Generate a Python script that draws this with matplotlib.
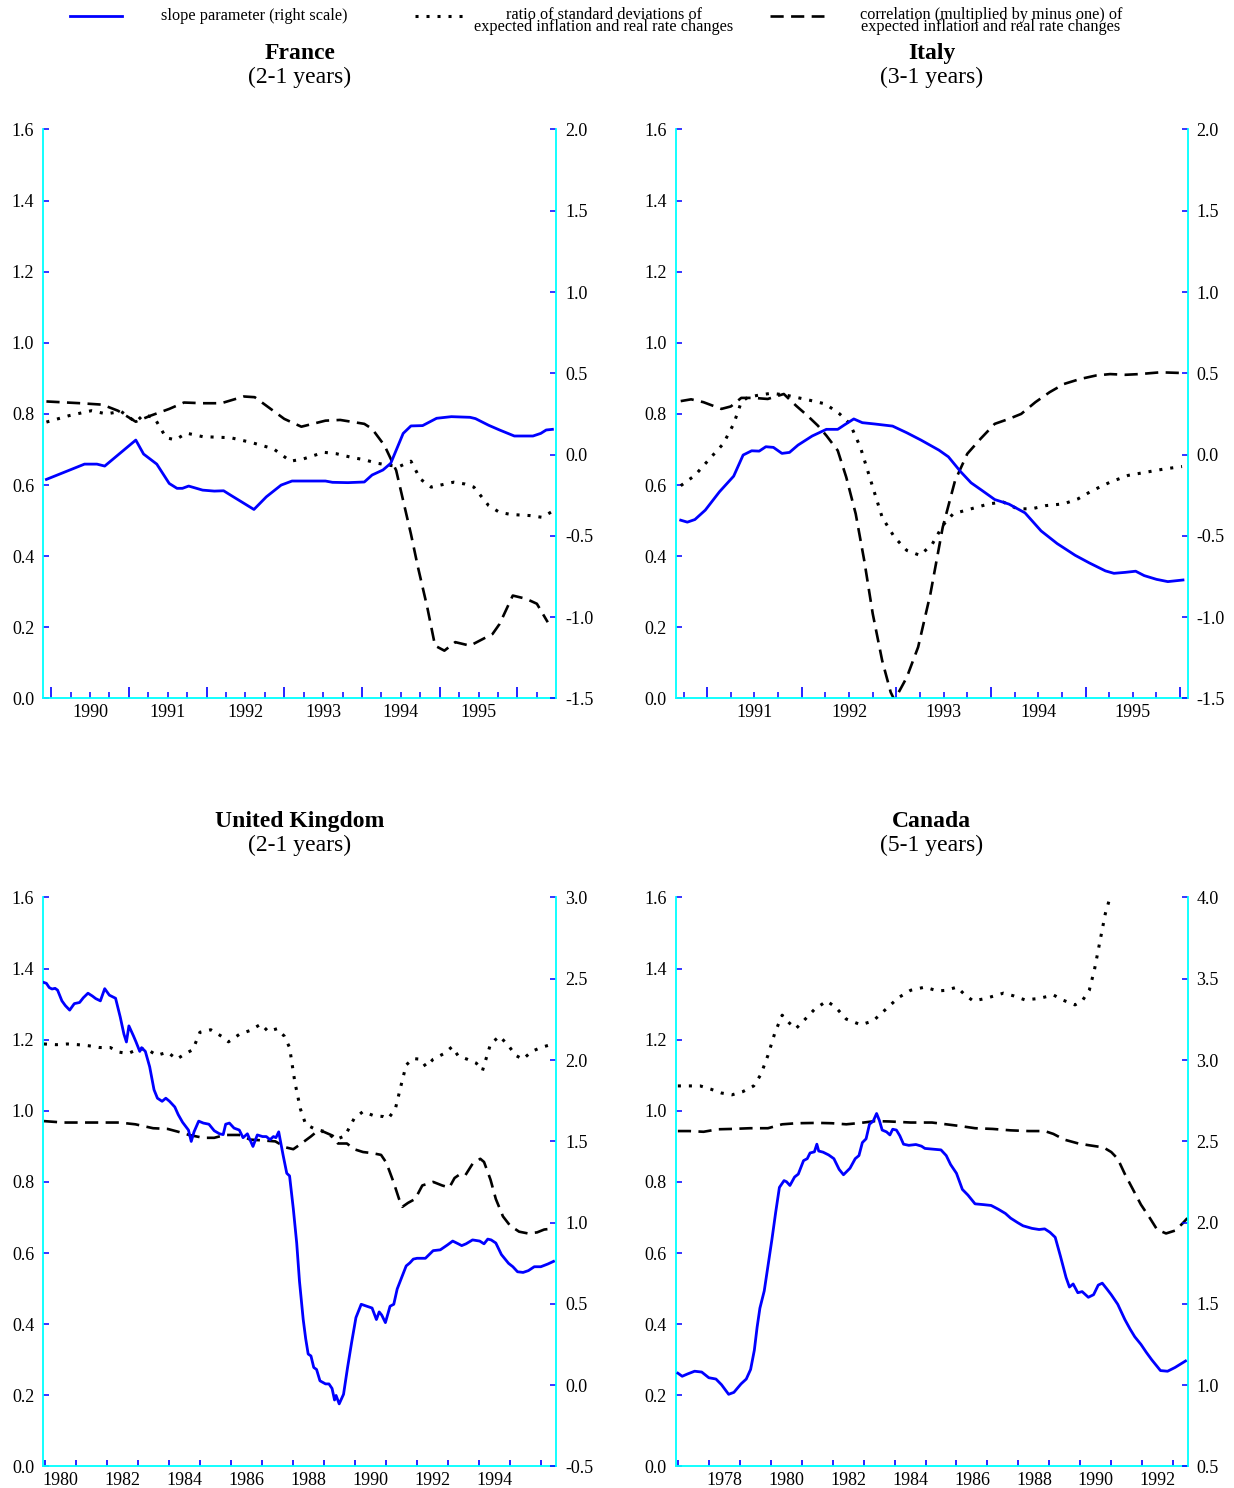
import numpy as np
import matplotlib
matplotlib.use("Agg")
import matplotlib.pyplot as plt
from matplotlib.lines import Line2D
from matplotlib.ticker import FixedLocator, FormatStrFormatter, NullFormatter

plt.rcParams["font.family"] = ["Liberation Serif", "DejaVu Serif"]
plt.rcParams["axes.unicode_minus"] = False

# ---------------- data ----------------
# France (2-1 years)
fr_slope_year = [1989.94, 1990.43, 1990.59, 1990.69, 1991.09, 1991.19, 1991.36, 1991.52, 1991.62,
                 1991.69, 1991.77, 1991.95, 1992.10, 1992.22, 1992.31, 1992.45, 1992.61, 1992.77,
                 1992.96, 1993.10, 1993.34, 1993.53, 1993.62, 1993.82, 1994.03, 1994.13, 1994.27,
                 1994.37, 1994.53, 1994.63, 1994.78, 1994.96, 1995.15, 1995.39, 1995.46, 1995.63,
                 1995.77, 1995.96, 1996.20, 1996.30, 1996.37, 1996.45]
fr_slope = [-0.153, -0.059, -0.059, -0.071, 0.089, 0.003, -0.059, -0.178, -0.208, -0.208, -0.194,
            -0.219, -0.225, -0.223, -0.250, -0.291, -0.338, -0.260, -0.188, -0.163, -0.163, -0.163,
            -0.171, -0.173, -0.169, -0.126, -0.095, -0.054, 0.130, 0.176, 0.178, 0.223, 0.233,
            0.229, 0.221, 0.180, 0.151, 0.114, 0.114, 0.130, 0.151, 0.155]
fr_ratio_year = [1989.94, 1990.23, 1990.52, 1990.71, 1990.90, 1991.09, 1991.19, 1991.33, 1991.48,
                 1991.60, 1991.74, 1991.95, 1992.31, 1992.57, 1992.86, 1993.08, 1993.24, 1993.51,
                 1993.67, 1993.86, 1994.03, 1994.20, 1994.37, 1994.48, 1994.63, 1994.75, 1994.89,
                 1995.18, 1995.32, 1995.44, 1995.63, 1995.77, 1995.92, 1996.16, 1996.32, 1996.45]
fr_ratio = [0.777, 0.795, 0.809, 0.800, 0.807, 0.777, 0.798, 0.789, 0.733, 0.727, 0.746, 0.736,
            0.733, 0.720, 0.702, 0.667, 0.673, 0.692, 0.688, 0.678, 0.671, 0.661, 0.655, 0.652,
            0.667, 0.617, 0.594, 0.608, 0.603, 0.594, 0.542, 0.523, 0.517, 0.514, 0.509, 0.526]
fr_corr_year = [1989.94, 1990.38, 1990.66, 1990.86, 1991.09, 1991.28, 1991.52, 1991.71, 1991.95,
                1992.19, 1992.48, 1992.62, 1992.77, 1993.00, 1993.22, 1993.53, 1993.72, 1994.03,
                1994.13, 1994.29, 1994.44, 1994.53, 1994.63, 1994.72, 1994.84, 1994.94, 1995.06,
                1995.20, 1995.39, 1995.68, 1995.77, 1995.94, 1996.11, 1996.25, 1996.39]
fr_corr = [0.835, 0.830, 0.826, 0.809, 0.778, 0.795, 0.814, 0.832, 0.830, 0.830, 0.849, 0.847,
           0.823, 0.786, 0.764, 0.781, 0.783, 0.772, 0.758, 0.711, 0.641, 0.556, 0.462, 0.369,
           0.256, 0.148, 0.134, 0.158, 0.148, 0.181, 0.209, 0.289, 0.280, 0.266, 0.214]

# Italy (3-1 years)
it_slope_year = [1990.72, 1990.79, 1990.87, 1990.98, 1991.13, 1991.28, 1991.38, 1991.47, 1991.55,
                 1991.62, 1991.70, 1991.79, 1991.87, 1991.96, 1992.11, 1992.26, 1992.38, 1992.45,
                 1992.55, 1992.64, 1992.77, 1992.96, 1993.11, 1993.26, 1993.45, 1993.55, 1993.68,
                 1993.79, 1993.91, 1994.04, 1994.19, 1994.36, 1994.53, 1994.70, 1994.89, 1995.04,
                 1995.21, 1995.30, 1995.42, 1995.53, 1995.62, 1995.75, 1995.87, 1996.03]
it_slope = [-0.404, -0.416, -0.400, -0.342, -0.229, -0.133, -0.003, 0.023, 0.021, 0.048, 0.044,
            0.007, 0.013, 0.058, 0.114, 0.155, 0.155, 0.182, 0.219, 0.196, 0.188, 0.175, 0.134,
            0.089, 0.027, -0.014, -0.106, -0.174, -0.223, -0.277, -0.305, -0.359, -0.470, -0.548,
            -0.620, -0.667, -0.716, -0.731, -0.725, -0.718, -0.745, -0.768, -0.782, -0.772]
it_ratio_year = [1990.72, 1990.87, 1991.04, 1991.17, 1991.28, 1991.36, 1991.43, 1991.57, 1991.68,
                 1991.83, 1992.09, 1992.25, 1992.40, 1992.51, 1992.62, 1992.74, 1992.85, 1992.98,
                 1993.11, 1993.25, 1993.38, 1993.49, 1993.60, 1993.79, 1993.98, 1994.13, 1994.28,
                 1994.43, 1994.58, 1994.77, 1994.92, 1995.07, 1995.26, 1995.45, 1995.64, 1995.83,
                 1996.02]
it_ratio = [0.598, 0.627, 0.678, 0.716, 0.772, 0.833, 0.847, 0.854, 0.858, 0.853, 0.838, 0.828,
            0.800, 0.772, 0.706, 0.603, 0.509, 0.453, 0.416, 0.402, 0.434, 0.486, 0.519, 0.533,
            0.547, 0.552, 0.533, 0.533, 0.542, 0.547, 0.561, 0.584, 0.608, 0.627, 0.636, 0.645,
            0.652]
it_corr_year = [1990.72, 1990.83, 1990.96, 1991.15, 1991.25, 1991.36, 1991.49, 1991.64, 1991.81,
                1991.94, 1992.06, 1992.17, 1992.26, 1992.38, 1992.47, 1992.57, 1992.66, 1992.75,
                1992.85, 1992.94, 1992.98, 1993.11, 1993.23, 1993.36, 1993.49, 1993.62, 1993.75,
                1993.89, 1994.04, 1994.19, 1994.32, 1994.47, 1994.62, 1994.77, 1994.94, 1995.11,
                1995.26, 1995.42, 1995.57, 1995.79, 1996.02]
it_corr = [0.836, 0.841, 0.833, 0.814, 0.821, 0.845, 0.845, 0.842, 0.856, 0.823, 0.795, 0.767,
           0.739, 0.697, 0.622, 0.519, 0.388, 0.238, 0.106, 0.017, -0.005, 0.059, 0.144, 0.294,
           0.481, 0.612, 0.688, 0.730, 0.772, 0.786, 0.800, 0.833, 0.861, 0.884, 0.898, 0.908,
           0.912, 0.910, 0.912, 0.917, 0.915]

# United Kingdom (2-1 years)
uk_slope_year = [1979.98, 1980.06, 1980.15, 1980.24, 1980.34, 1980.42, 1980.56, 1980.67, 1980.81,
                 1980.96, 1981.13, 1981.25, 1981.40, 1981.54, 1981.65, 1981.80, 1981.94, 1982.09,
                 1982.29, 1982.44, 1982.56, 1982.64, 1982.72, 1982.87, 1982.95, 1983.07, 1983.13,
                 1983.25, 1983.39, 1983.53, 1983.64, 1983.79, 1983.91, 1984.03, 1984.20, 1984.31,
                 1984.45, 1984.64, 1984.73, 1984.82, 1984.97, 1985.12, 1985.30, 1985.47, 1985.64,
                 1985.76, 1985.84, 1985.96, 1986.11, 1986.28, 1986.40, 1986.54, 1986.72, 1986.86,
                 1987.03, 1987.15, 1987.27, 1987.38, 1987.46, 1987.55, 1987.69, 1987.81, 1987.90,
                 1988.02, 1988.13, 1988.22, 1988.34, 1988.42, 1988.50, 1988.59, 1988.68, 1988.77,
                 1988.88, 1989.06, 1989.17, 1989.27, 1989.35, 1989.40, 1989.50, 1989.64, 1989.77,
                 1989.90, 1990.04, 1990.21, 1990.39, 1990.56, 1990.70, 1990.79, 1990.87, 1990.99,
                 1991.14, 1991.26, 1991.37, 1991.49, 1991.66, 1991.78, 1991.89, 1992.01, 1992.28,
                 1992.53, 1992.76, 1992.99, 1993.16, 1993.34, 1993.45, 1993.59, 1993.80, 1994.03,
                 1994.17, 1994.29, 1994.40, 1994.55, 1994.73, 1994.96, 1995.10, 1995.25, 1995.43,
                 1995.60, 1995.79, 1996.00, 1996.23, 1996.41]
uk_slope = [2.477, 2.472, 2.446, 2.437, 2.441, 2.430, 2.364, 2.335, 2.307, 2.347, 2.354, 2.383,
            2.411, 2.394, 2.378, 2.364, 2.439, 2.399, 2.380, 2.265, 2.159, 2.111, 2.210, 2.147,
            2.111, 2.053, 2.076, 2.053, 1.958, 1.817, 1.765, 1.746, 1.765, 1.746, 1.711, 1.664,
            1.617, 1.569, 1.499, 1.558, 1.624, 1.612, 1.605, 1.565, 1.546, 1.541, 1.605, 1.612,
            1.581, 1.569, 1.522, 1.546, 1.468, 1.539, 1.529, 1.529, 1.510, 1.529, 1.522, 1.558,
            1.416, 1.303, 1.287, 1.086, 0.874, 0.638, 0.403, 0.285, 0.191, 0.179, 0.108, 0.096,
            0.026, 0.007, 0.007, -0.021, -0.092, -0.064, -0.116, -0.057, 0.108, 0.261, 0.415,
            0.497, 0.485, 0.474, 0.403, 0.450, 0.431, 0.384, 0.485, 0.497, 0.591, 0.650, 0.733,
            0.752, 0.775, 0.780, 0.780, 0.827, 0.832, 0.862, 0.886, 0.869, 0.858, 0.869, 0.893,
            0.886, 0.869, 0.898, 0.893, 0.874, 0.803, 0.749, 0.728, 0.697, 0.693, 0.704, 0.728,
            0.728, 0.745, 0.761]
uk_ratio_year = [1979.98, 1980.38, 1980.73, 1981.08, 1981.42, 1981.77, 1982.12, 1982.41, 1982.69,
                 1982.98, 1983.27, 1983.62, 1983.97, 1984.26, 1984.49, 1984.78, 1985.01, 1985.36,
                 1985.70, 1985.93, 1986.28, 1986.63, 1986.98, 1987.21, 1987.50, 1987.73, 1987.90,
                 1988.07, 1988.25, 1988.42, 1988.71, 1989.06, 1989.40, 1989.69, 1989.98, 1990.27,
                 1990.62, 1990.91, 1991.08, 1991.31, 1991.49, 1991.66, 1991.89, 1992.12, 1992.30,
                 1992.53, 1992.88, 1993.14, 1993.34, 1993.63, 1993.92, 1994.12, 1994.38, 1994.67,
                 1994.96, 1995.19, 1995.42, 1995.71, 1996.00, 1996.40]
uk_ratio = [1.188, 1.186, 1.188, 1.186, 1.183, 1.178, 1.178, 1.165, 1.161, 1.172, 1.175, 1.156,
            1.165, 1.145, 1.158, 1.172, 1.221, 1.228, 1.210, 1.194, 1.215, 1.226, 1.244, 1.223,
            1.231, 1.210, 1.178, 1.081, 1.005, 0.962, 0.949, 0.941, 0.919, 0.930, 0.978, 0.998,
            0.986, 0.984, 0.978, 1.005, 1.070, 1.129, 1.147, 1.145, 1.124, 1.145, 1.161, 1.180,
            1.154, 1.145, 1.134, 1.113, 1.188, 1.210, 1.183, 1.156, 1.145, 1.167, 1.178, 1.188]
uk_corr_year = [1979.98, 1980.61, 1981.19, 1981.77, 1982.41, 1982.93, 1983.50, 1983.97, 1984.31,
                1984.66, 1985.12, 1985.47, 1985.82, 1986.28, 1986.63, 1986.98, 1987.44, 1987.78,
                1988.02, 1988.25, 1988.59, 1988.77, 1989.00, 1989.29, 1989.46, 1989.75, 1989.98,
                1990.27, 1990.56, 1990.85, 1991.02, 1991.25, 1991.43, 1991.54, 1991.72, 1991.95,
                1992.18, 1992.53, 1992.82, 1993.05, 1993.22, 1993.40, 1993.57, 1993.80, 1994.05,
                1994.17, 1994.38, 1994.55, 1994.78, 1995.01, 1995.30, 1995.59, 1995.88, 1996.11,
                1996.40]
uk_corr = [0.971, 0.967, 0.967, 0.967, 0.967, 0.962, 0.951, 0.949, 0.941, 0.932, 0.924, 0.924,
           0.932, 0.932, 0.919, 0.917, 0.914, 0.897, 0.892, 0.906, 0.928, 0.941, 0.941, 0.930,
           0.908, 0.908, 0.892, 0.884, 0.881, 0.876, 0.854, 0.800, 0.752, 0.730, 0.741, 0.752,
           0.790, 0.800, 0.790, 0.784, 0.811, 0.822, 0.819, 0.851, 0.865, 0.856, 0.806, 0.752,
           0.703, 0.677, 0.660, 0.655, 0.658, 0.666, 0.669]

# Canada (5-1 years)
ca_slope_year = [1977.00, 1977.14, 1977.31, 1977.54, 1977.77, 1978.00, 1978.23, 1978.41, 1978.64,
                 1978.81, 1979.04, 1979.21, 1979.35, 1979.47, 1979.56, 1979.65, 1979.79, 1979.91,
                 1980.04, 1980.16, 1980.28, 1980.43, 1980.51, 1980.62, 1980.77, 1980.89, 1981.06,
                 1981.18, 1981.27, 1981.41, 1981.49, 1981.55, 1981.69, 1981.87, 1982.04, 1982.21,
                 1982.35, 1982.56, 1982.73, 1982.85, 1982.96, 1983.08, 1983.19, 1983.31, 1983.42,
                 1983.51, 1983.60, 1983.74, 1983.85, 1983.94, 1984.06, 1984.17, 1984.29, 1984.46,
                 1984.69, 1984.87, 1984.98, 1985.21, 1985.50, 1985.67, 1985.81, 1986.00, 1986.19,
                 1986.37, 1986.60, 1986.88, 1987.12, 1987.35, 1987.58, 1987.75, 1987.98, 1988.15,
                 1988.44, 1988.67, 1988.85, 1989.02, 1989.19, 1989.36, 1989.54, 1989.65, 1989.77,
                 1989.92, 1990.06, 1990.26, 1990.43, 1990.58, 1990.71, 1990.86, 1991.00, 1991.21,
                 1991.44, 1991.61, 1991.76, 1991.96, 1992.13, 1992.31, 1992.48, 1992.59, 1992.82,
                 1993.06, 1993.40]
ca_slope = [1.073, 1.054, 1.068, 1.085, 1.080, 1.045, 1.037, 1.002, 0.943, 0.955, 1.007, 1.037,
            1.096, 1.214, 1.356, 1.473, 1.579, 1.732, 1.898, 2.063, 2.216, 2.258, 2.251, 2.228,
            2.280, 2.298, 2.381, 2.393, 2.428, 2.435, 2.482, 2.440, 2.433, 2.416, 2.393, 2.327,
            2.294, 2.334, 2.393, 2.412, 2.492, 2.515, 2.605, 2.624, 2.671, 2.628, 2.569, 2.558,
            2.539, 2.574, 2.569, 2.534, 2.482, 2.475, 2.480, 2.470, 2.456, 2.452, 2.447, 2.412,
            2.357, 2.303, 2.204, 2.169, 2.115, 2.110, 2.105, 2.082, 2.056, 2.027, 1.999, 1.980,
            1.964, 1.957, 1.961, 1.940, 1.909, 1.792, 1.662, 1.603, 1.622, 1.568, 1.575, 1.540,
            1.556, 1.615, 1.627, 1.591, 1.556, 1.497, 1.403, 1.344, 1.297, 1.250, 1.202, 1.155,
            1.115, 1.089, 1.085, 1.108, 1.148]
ca_ratio_year = [1977.00, 1977.37, 1977.72, 1978.06, 1978.41, 1978.75, 1979.10, 1979.45, 1979.68,
                 1979.91, 1980.14, 1980.37, 1980.60, 1980.81, 1981.06, 1981.41, 1981.81, 1982.10,
                 1982.44, 1982.91, 1983.31, 1983.71, 1984.12, 1984.52, 1984.98, 1985.39, 1985.67,
                 1986.02, 1986.25, 1986.54, 1986.94, 1987.52, 1987.86, 1988.21, 1988.67, 1989.13,
                 1989.42, 1989.83, 1990.06, 1990.29, 1990.46, 1990.64, 1990.81, 1990.96, 1991.10]
ca_ratio = [1.070, 1.070, 1.070, 1.061, 1.050, 1.045, 1.054, 1.070, 1.102, 1.156, 1.221, 1.269,
            1.247, 1.231, 1.253, 1.285, 1.309, 1.291, 1.258, 1.242, 1.253, 1.285, 1.318, 1.339,
            1.348, 1.337, 1.339, 1.348, 1.328, 1.309, 1.316, 1.331, 1.323, 1.312, 1.316, 1.326,
            1.312, 1.298, 1.309, 1.339, 1.398, 1.479, 1.555, 1.600, 1.690]
ca_corr_year = [1977.00, 1977.37, 1977.83, 1978.29, 1978.75, 1979.33, 1979.91, 1980.37, 1980.83,
                1981.52, 1981.98, 1982.44, 1982.91, 1983.37, 1983.83, 1984.52, 1985.21, 1985.67,
                1986.13, 1986.60, 1987.17, 1987.75, 1988.33, 1988.85, 1989.13, 1989.48, 1989.94,
                1990.29, 1990.75, 1991.00, 1991.21, 1991.44, 1991.67, 1991.96, 1992.25, 1992.48,
                1992.77, 1993.06, 1993.29, 1993.46]
ca_corr = [0.943, 0.943, 0.941, 0.948, 0.949, 0.951, 0.951, 0.962, 0.965, 0.966, 0.965, 0.962,
           0.966, 0.971, 0.970, 0.967, 0.967, 0.962, 0.957, 0.951, 0.949, 0.945, 0.943, 0.943,
           0.935, 0.919, 0.908, 0.903, 0.897, 0.884, 0.865, 0.822, 0.784, 0.736, 0.698, 0.666,
           0.655, 0.663, 0.682, 0.698]

panel_titles = ["France", "Italy", "United Kingdom", "Canada"]
panel_subtitles = ["(2-1 years)", "(3-1 years)", "(2-1 years)", "(5-1 years)"]
legend_labels = ["slope parameter (right scale)",
                 "ratio of standard deviations of\nexpected inflation and real rate changes",
                 "correlation (multiplied by minus one) of\nexpected inflation and real rate changes"]

# ---------------- styling ----------------
W, H = 1234, 1488
BLUE = "#0000ff"
CYAN = "#00ffff"
SLOPE = dict(color=BLUE, lw=2.0, solid_joinstyle="round")
RATIO = dict(color="black", lw=2.2, linestyle=(0, (1.0, 2.6)))
CORR = dict(color="black", lw=1.9, linestyle=(0, (5.0, 2.8)))
TICK_FS = 13

fig = plt.figure(figsize=(W / 100, H / 100), dpi=100)


def box(left, right, top, bottom):
    return [left / W, 1 - bottom / H, (right - left) / W, (bottom - top) / H]


def fx(px):
    return px / W


def fy(py):
    return 1 - py / H


def panel(rect, title, subtitle, series, xlim, rlim, years, quarters, label_years, major_len):
    ax = fig.add_axes(rect)
    ax2 = ax.twinx()
    (sy, s), (ry, r), (cy, c) = series
    ax.plot(ry, r, **RATIO)
    ax.plot(cy, c, **CORR)
    ax2.plot(sy, s, **SLOPE)

    ax.set_xlim(*xlim)
    ax.set_ylim(0, 1.6)
    ax2.set_ylim(*rlim)
    ax.set_yticks(np.round(np.arange(0, 1.61, 0.2), 1))
    ax2.set_yticks(np.round(np.arange(rlim[0], rlim[1] + 0.01, 0.5), 1))
    ax.yaxis.set_major_formatter(FormatStrFormatter("%.1f"))
    ax2.yaxis.set_major_formatter(FormatStrFormatter("%.1f"))
    ax.tick_params(axis="y", direction="in", length=4, width=1.1, color=BLUE,
                   labelsize=TICK_FS, pad=6.5)
    ax2.tick_params(axis="y", direction="in", length=4, width=1.1, color=BLUE,
                    labelsize=TICK_FS, pad=6.3)

    ax.xaxis.set_major_locator(FixedLocator(years))
    ax.xaxis.set_minor_locator(FixedLocator(quarters))
    ax.xaxis.set_major_formatter(NullFormatter())
    ax.tick_params(axis="x", which="major", direction="in", length=major_len, width=1.2,
                   color=BLUE)
    ax.tick_params(axis="x", which="minor", direction="in", length=4, width=1.1, color=BLUE)

    sec = ax.secondary_xaxis("bottom")
    sec.set_xticks([y + 0.5 for y in label_years], [str(y) for y in label_years])
    sec.tick_params(length=0, pad=4, labelsize=TICK_FS)
    for sp in sec.spines.values():
        sp.set_visible(False)

    for name in ("top", "right"):
        ax.spines[name].set_visible(False)
    for name in ("left", "bottom"):
        ax.spines[name].set_color(CYAN)
        ax.spines[name].set_linewidth(1.3)
    for name in ("top", "left", "bottom"):
        ax2.spines[name].set_visible(False)
    ax2.spines["right"].set_color(CYAN)
    ax2.spines["right"].set_linewidth(1.3)

    h = rect[3] * H
    ax.text(0.5, 1 + 76 / h, title, transform=ax.transAxes, ha="center", va="center",
            fontsize=17, fontweight="bold")
    ax.text(0.5, 1 + 52 / h, subtitle, transform=ax.transAxes, ha="center", va="center",
            fontsize=17)
    return ax, ax2


def quarter_marks(start, stop):
    return list(np.arange(start, stop + 0.001, 0.25))


panel(box(43.3, 556.3, 129.5, 698.3), panel_titles[0], panel_subtitles[0],
      [(fr_slope_year, fr_slope), (fr_ratio_year, fr_ratio), (fr_corr_year, fr_corr)],
      (1989.9, 1996.5), (-1.5, 2.0), list(range(1990, 1997)), quarter_marks(1990, 1996.25),
      list(range(1990, 1996)), 8)

panel(box(675.7, 1187.7, 129.5, 698.3), panel_titles[1], panel_subtitles[1],
      [(it_slope_year, it_slope), (it_ratio_year, it_ratio), (it_corr_year, it_corr)],
      (1990.667, 1996.08), (-1.5, 2.0), list(range(1991, 1997)), quarter_marks(1990.75, 1996.0),
      list(range(1991, 1996)), 8)

panel(box(43.3, 556.3, 897.5, 1466.3), panel_titles[2], panel_subtitles[2],
      [(uk_slope_year, uk_slope), (uk_ratio_year, uk_ratio), (uk_corr_year, uk_corr)],
      (1979.96, 1996.5), (-0.5, 3.0), list(range(1980, 1997)), [],
      list(range(1980, 1995, 2)), 4.5)

panel(box(675.7, 1187.7, 897.5, 1466.3), panel_titles[3], panel_subtitles[3],
      [(ca_slope_year, ca_slope), (ca_ratio_year, ca_ratio), (ca_corr_year, ca_corr)],
      (1976.93, 1993.47), (0.5, 4.0), list(range(1977, 1994)), [],
      list(range(1978, 1993, 2)), 4.5)

# ---------------- legend strip ----------------
LEG_FS = 11.7
fig.add_artist(Line2D([fx(70), fx(122)], [fy(16), fy(16)], transform=fig.transFigure, **SLOPE))
fig.text(fx(254), fy(16), legend_labels[0], ha="center", va="center", fontsize=LEG_FS)

fig.add_artist(Line2D([fx(415), fx(463)], [fy(16), fy(16)], transform=fig.transFigure, **RATIO))
fig.text(fx(604), fy(21), legend_labels[1], ha="center", va="center", multialignment="center",
         fontsize=LEG_FS, linespacing=0.72)

fig.add_artist(Line2D([fx(770), fx(824)], [fy(16), fy(16)], transform=fig.transFigure, **CORR))
fig.text(fx(991), fy(21), legend_labels[2], ha="center", va="center", multialignment="center",
         fontsize=LEG_FS, linespacing=0.72)

fig.savefig("out.png", dpi=100)
